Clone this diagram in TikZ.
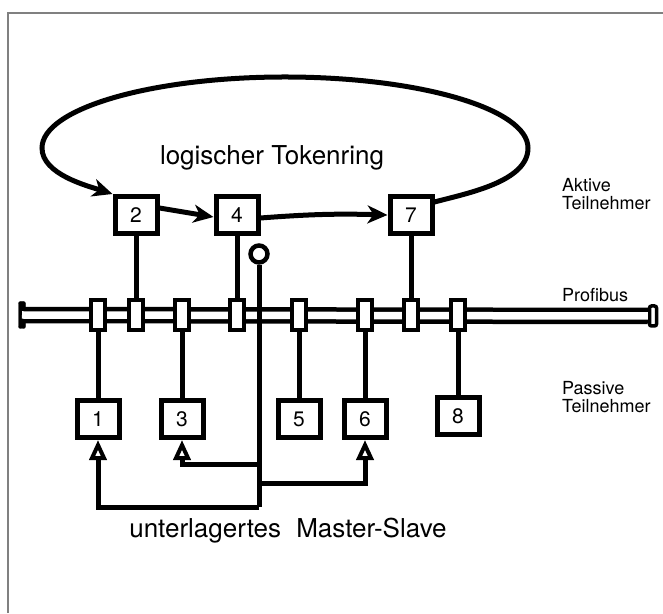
\documentclass[tikz,border=0pt]{standalone}
\usepackage{fontspec}
\setmainfont{TeX Gyre Heros}
\usetikzlibrary{arrows.meta}

\begin{document}
\begin{tikzpicture}[x=1pt,y=1pt,
  station/.style={rectangle,draw=black,line width=5pt,fill=white,minimum width=42pt,minimum height=37pt,inner sep=0pt,font=\fontsize{21}{21}\selectfont},
  tap/.style={rectangle,draw=black,line width=4.5pt,fill=white,minimum width=14pt,minimum height=30pt,inner sep=0pt},
  wire/.style={line width=5pt},
  bus/.style={line width=4.5pt,double=white,double distance=7.5pt},
  token/.style={line width=5pt,-{Stealth[length=20pt,width=18pt,inset=6pt]}},
  poll/.style={line width=5pt,-{Triangle[open,fill=white,length=20pt,width=17pt,line width=4pt]}},
  side/.style={anchor=base west,align=left,inner sep=0pt,font=\fontsize{18}{18}\selectfont},
  big/.style={anchor=base,inner sep=0pt,font=\fontsize{26}{26}\selectfont}]
\useasboundingbox (0,0) rectangle (663,613);
\draw[gray,line width=1.2pt] (8,0) -- (8,600) -- (663,600);
% bus with terminators
\node[draw,fill=black,rounded corners=2pt,minimum width=7pt,minimum height=27pt,inner sep=0pt] (endL) at (22,298) {};
\node[draw,line width=3.5pt,fill=white,rounded corners=2pt,minimum width=7pt,minimum height=20pt,inner sep=0pt] (endR) at (653,297) {};
\draw[bus] (endL.center) -- (endR.west);
\foreach \n/\x in {1/98,2/136,3/182,4/237,5/299,6/365,7/411,8/458}
  \node[tap] (b\n) at (\x,298) {};
% active stations
\node[station] (s2) at (136,398) {2};
\node[station] (s4) at (237,398) {4};
\node[station] (s7) at (411,398) {7};
% passive stations
\node[station] (s1) at (98,194) {1};
\node[station] (s3) at (182,194) {3};
\node[station] (s5) at (299,194) {5};
\node[station] (s6) at (365,194) {6};
\node[station] (s8) at (458,197) {8};
\foreach \n in {2,4,7} \draw[wire] (s\n) -- (b\n);
\foreach \n in {1,3,5,6,8} \draw[wire] (b\n) -- (s\n);
% token ring
\draw[token] ([yshift=13pt]s7.east) to[out=15,in=-90,looseness=0.8] (528,465)
  arc[start angle=0,end angle=180,x radius=243,y radius=71]
  to[out=-90,in=162,looseness=0.8] (s2.north west);
\draw[token] ([yshift=7pt]s2.east) -- ([yshift=-2pt]s4.west);
\draw[token] ([yshift=-3pt]s4.east) to[bend left=3] (s7.west);
\node[big] (ringlabel) at (272,448) {logischer Tokenring};
% master-slave polling
\node[circle,draw,line width=4.5pt,minimum size=17pt,inner sep=0pt] (tok) at (259,359) {};
\coordinate (m1) at (259,106);
\coordinate (m3) at (259,149);
\coordinate (m6) at (259,130);
\draw[wire] (tok) -- (m1);
\draw[poll] (m1) -| (s1.south);
\draw[poll] (m3) -| (s3.south);
\draw[poll] (m6) -| (s6.south);
\node[big] (mslabel) at (288,76) {unterlagertes\hspace{8pt} Master-Slave};
% labels
\node[side] (aktiv) at (562,403) {Aktive\\Teilnehmer};
\node[side] (bus) at (562,311) {Profibus};
\node[side] (passiv) at (562,200) {Passive\\Teilnehmer};
\end{tikzpicture}
\end{document}
